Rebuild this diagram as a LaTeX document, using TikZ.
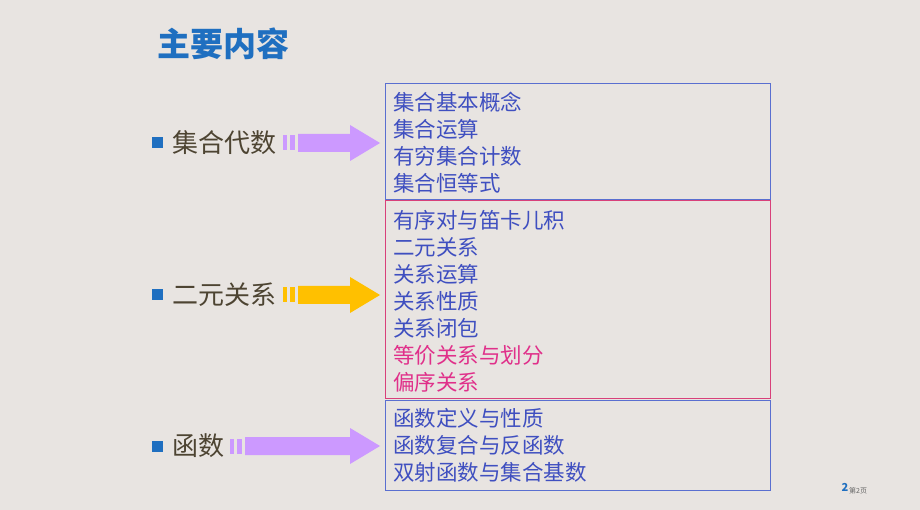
\documentclass[tikz,border=0pt]{standalone}
\usepackage{fontspec}
\setmainfont{Noto Sans CJK SC}
\newfontfamily\cjk{Noto Sans CJK SC}
\definecolor{bgcol}{HTML}{E8E4E1}
\definecolor{titleblue}{HTML}{1F6FC0}
\definecolor{itemblue}{HTML}{3F4FC0}
\definecolor{itempink}{HTML}{E0308A}
\definecolor{boxblue}{HTML}{5A6FD0}
\definecolor{boxpink}{HTML}{D8407A}
\definecolor{labelcol}{HTML}{4D4432}
\definecolor{violetarrow}{HTML}{CC99FF}
\definecolor{yellowarrow}{HTML}{FFC000}
\tikzset{
  item/.style = {anchor=west, inner sep=0pt, font=\fontsize{21.5pt}{21.5pt}\selectfont, text=itemblue},
  label/.style = {anchor=west, inner sep=0pt, font=\fontsize{26pt}{26pt}\selectfont, text=labelcol},
  bullet/.style = {fill=titleblue, minimum size=11pt, inner sep=0pt}
}
% striped arrow: start x, end x, y, colour
\newcommand{\bararrow}[4]{
  \fill[#4] (#1,#3-7.5) rectangle (#1+4,#3+7.5);
  \fill[#4] (#1+7,#3-7.5) rectangle (#1+12,#3+7.5);
  \fill[#4] (#1+15,#3-9) -- (#2-30,#3-9) -- (#2-30,#3-18) -- (#2,#3)
    -- (#2-30,#3+18) -- (#2-30,#3+9) -- (#1+15,#3+9) -- cycle;
}
\begin{document}
\begin{tikzpicture}[x=1pt, y=-1pt]
	\fill[bgcol] (0,0) rectangle (920,510);
	\useasboundingbox (0,0) rectangle (920,510);

	% Title
	\node[anchor=west, inner sep=0pt, font=\fontsize{33pt}{33pt}\selectfont\bfseries, text=titleblue] (title) at (157,44) {主要内容};

	% Boxes
	\draw[boxblue, thick] (385,83) rectangle (770,199);
	\draw[boxpink, thick] (385,200) rectangle (770,398);
	\draw[boxblue, thick] (385,400) rectangle (770,490);

	% Left labels
	\node[bullet] (b1) at (157,143) {};
	\node[label] (l1) at (172,143) {集合代数};
	\node[bullet] (b2) at (157,295) {};
	\node[label] (l2) at (172,295) {二元关系};
	\node[bullet] (b3) at (157,446) {};
	\node[label] (l3) at (172,446) {函数};

	% Arrows
	\bararrow{283}{380}{143}{violetarrow}
	\bararrow{283}{380}{295}{yellowarrow}
	\bararrow{230}{380}{446}{violetarrow}

	% Box 1
	\node[item] (s1) at (393,102) {集合基本概念};
	\node[item] (s2) at (393,129) {集合运算};
	\node[item] (s3) at (393,156) {有穷集合计数};
	\node[item] (s4) at (393,183) {集合恒等式};

	% Box 2
	\node[item] (r1) at (393,220) {有序对与笛卡儿积};
	\node[item] (r2) at (393,247) {二元关系};
	\node[item] (r3) at (393,274) {关系运算};
	\node[item] (r4) at (393,301) {关系性质};
	\node[item] (r5) at (393,328) {关系闭包};
	\node[item, text=itempink] (r6) at (393,355) {等价关系与划分};
	\node[item, text=itempink] (r7) at (393,382) {偏序关系};

	% Box 3
	\node[item] (f1) at (393,418) {函数定义与性质};
	\node[item] (f2) at (393,445) {函数复合与反函数};
	\node[item] (f3) at (393,472) {双射函数与集合基数};

	% Page number
	\node[inner sep=0pt, font=\fontsize{11pt}{11pt}\selectfont\bfseries, text=titleblue] (pn) at (845,487) {2};
	\node[anchor=west, inner sep=0pt, font=\fontsize{7pt}{7pt}\selectfont, text=gray!80!black] (pg) at (849,491) {第2页};
\end{tikzpicture}
\end{document}
